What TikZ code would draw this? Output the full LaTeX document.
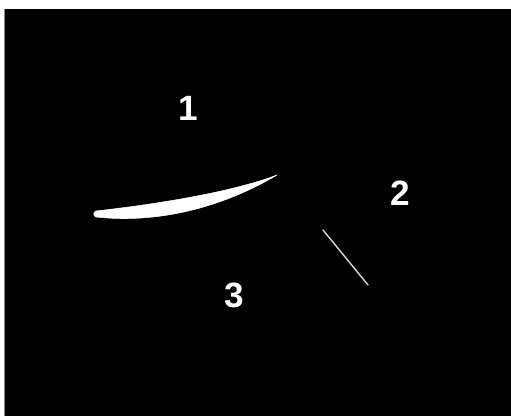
\documentclass[tikz,border=0pt]{standalone}
\usepackage{fontspec}
\setmainfont{Liberation Sans}
\usetikzlibrary{positioning}
\definecolor{edgegrey}{HTML}{8A8A8A}
\definecolor{streak}{HTML}{D8D8D8}

\begin{document}
\begin{tikzpicture}[
        num/.style={font=\fontsize{20}{24}\selectfont\bfseries, text=white, inner sep=0pt},
        lens/.style={fill=white, draw=white, line width=0.3pt},
        crack/.style={draw=streak, line width=0.8pt, line cap=round}]
      \useasboundingbox (0,0) rectangle (10.22,8.32);
      % field
      \fill[black] (0.1,0) rectangle (10.22,8.14);
      \draw[edgegrey, line width=0.4pt] (0.09,0) -- (0.09,8.14);
      % bright band
      \coordinate (tipl) at (1.92,4.10);
      \coordinate (tipr) at (5.54,4.82);
      \coordinate (tipb) at (1.92,3.98);
      \path[lens] (tipl) .. controls (3.0,4.22) and (4.6,4.46) .. (tipr)
        .. controls (4.7,4.32) and (3.4,3.82) .. (tipb)
        .. controls (1.86,4.0) and (1.86,4.08) .. (tipl) -- cycle;
      % thin streak
      \coordinate (sa) at (6.46,3.72);
      \coordinate (sb) at (7.36,2.62);
      \draw[crack] (sa) -- (sb);
      % region numbers
      \node[num] (one) at (3.76,6.16) {1};
      \node[num] (two) at (8.0,4.46) {2};
      \node[num] (three) at (4.68,2.42) {3};
    \end{tikzpicture}
\end{document}
